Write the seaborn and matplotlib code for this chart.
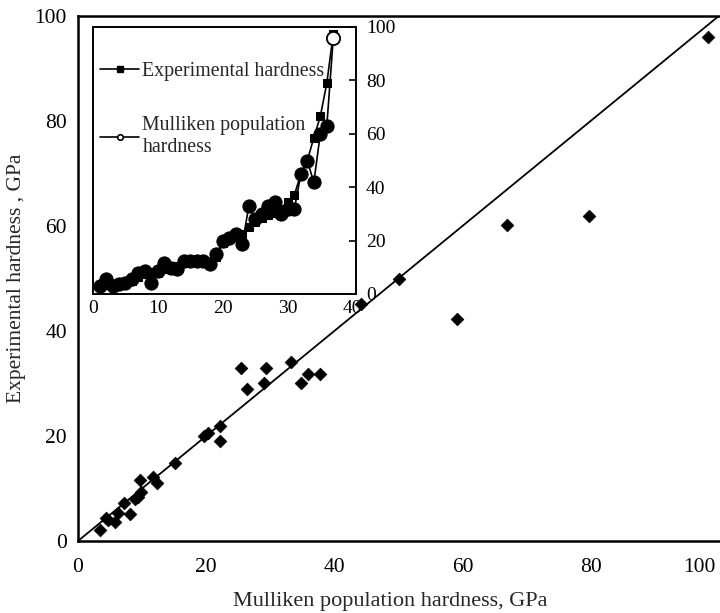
import matplotlib
matplotlib.use("Agg")
import matplotlib.pyplot as plt
import matplotlib.transforms as mtransforms
from matplotlib.lines import Line2D
import numpy as np
import pandas as pd
import seaborn as sns

# ---- main scatter: Mulliken population hardness vs experimental hardness (GPa)
mulliken_gpa = [3.4, 4.4, 4.7, 5.8, 6.3, 7.2, 8.1, 8.9, 9.4, 9.7, 9.9, 11.7, 12.3,
                15.2, 19.7, 20.3, 22.1, 22.1, 25.4, 26.3, 29.1, 29.3, 33.2, 34.8,
                35.9, 37.8, 44.1, 50.1, 59.1, 66.9, 79.7, 98.3]
experimental_gpa = [2.1, 4.4, 4.0, 3.6, 5.3, 7.2, 5.1, 8.0, 8.4, 11.6, 9.4, 12.2, 11.0,
                    14.9, 20.0, 20.6, 21.9, 19.0, 32.9, 28.9, 30.0, 32.9, 34.1, 30.0,
                    31.9, 31.8, 45.2, 49.9, 42.3, 60.2, 61.9, 96.0]
main_ticks = [0, 20, 40, 60, 80, 100]

# ---- inset: hardness per compound, ordered by experimental hardness
compound_no = list(range(1, 38))
inset_experimental = [2.5, 3.5, 3.8, 4.0, 4.2, 5.0, 6.5, 7.5, 7.0, 8.0, 9.5, 10.0,
                      10.5, 11.5, 11.8, 12.0, 12.0, 12.0, 14.0, 19.0, 20.5, 22.0,
                      22.5, 25.0, 27.0, 28.5, 29.5, 30.5, 32.0, 34.5, 37.0, 45.0,
                      50.0, 58.5, 66.5, 79.0, 97.5]
inset_mulliken = [3.0, 5.5, 3.0, 3.6, 4.2, 5.5, 8.0, 8.6, 4.2, 8.5, 11.7, 9.9,
                  9.2, 12.4, 12.4, 12.4, 12.2, 11.1, 14.9, 19.9, 21.0, 22.5,
                  18.9, 33.0, 28.0, 30.0, 33.0, 34.3, 29.9, 31.8, 31.8, 44.9,
                  49.9, 41.8, 60.0, 63.0, 96.0]
inset_xticks = [0, 10, 20, 30, 40]
inset_yticks = [0, 20, 40, 60, 80, 100]

sns.set_theme(style="white")
plt.rcParams["font.family"] = ["Liberation Serif", "DejaVu Serif"]

fig = plt.figure(figsize=(7.2, 6.13), dpi=100)
ax = fig.add_axes([0.1083, 0.1175, 0.890, 0.8564])

main_df = pd.DataFrame({"mulliken": mulliken_gpa, "experimental": experimental_gpa})
sns.scatterplot(data=main_df, x="mulliken", y="experimental", marker="D",
                s=42, color="black", edgecolor="black", linewidth=0.5, ax=ax, zorder=3)
ax.axline((0, 0), slope=1, color="black", lw=1.3, zorder=2)

ax.set_xlim(0, 100)
ax.set_ylim(0, 100)
ax.set_xticks(main_ticks)
ax.set_yticks(main_ticks)
ax.tick_params(axis="both", direction="in", length=8, width=1.3, labelsize=15.5,
               colors="black", pad=8)
ax.tick_params(axis="x", pad=12)
for side in ["left", "bottom", "top"]:
    ax.spines[side].set_linewidth(1.8)
    ax.spines[side].set_color("black")
ax.spines["right"].set_visible(False)
ax.set_xlabel("Mulliken population hardness, GPa", fontsize=16, labelpad=11)
ax.set_ylabel("Experimental hardness , GPa", fontsize=15.5, labelpad=6)
ax.xaxis.label.set_x(0.487)

# keep the last x tick label inside the figure edge
fig.canvas.draw()
last_label = ax.get_xticklabels()[-1]
last_label.set_transform(last_label.get_transform() +
                         mtransforms.ScaledTranslation(-0.19, 0, fig.dpi_scale_trans))

# ---- inset
ax_in = fig.add_axes([0.1292, 0.5204, 0.3653, 0.4356])
ax_in.set_facecolor("white")
inset_df = pd.DataFrame({"no": compound_no, "exp": inset_experimental,
                         "mull": inset_mulliken})
sns.lineplot(data=inset_df, x="no", y="mull", marker="o", markersize=9.5,
             color="black", markeredgecolor="black", lw=1.2, sort=False, ax=ax_in,
             zorder=3)
sns.lineplot(data=inset_df, x="no", y="exp", marker="s", markersize=5.5,
             color="black", markeredgecolor="black", lw=1.2, sort=False, ax=ax_in,
             zorder=4)
last = inset_df.tail(1)
ax_in.plot(last["no"], last["mull"], "o", ms=9.5, mfc="white", mec="black",
           mew=1.3, zorder=5)

ax_in.set_xlim(0, 40.5)
ax_in.set_ylim(0, 100)
ax_in.set_xticks(inset_xticks)
ax_in.set_yticks(inset_yticks)
ax_in.yaxis.tick_right()
ax_in.yaxis.set_label_position("right")
ax_in.tick_params(axis="both", direction="in", length=5, width=1.2, labelsize=14,
                  colors="black", pad=4)
ax_in.tick_params(axis="y", pad=7)
ax_in.set_xlabel("")
ax_in.set_ylabel("")
for side in ax_in.spines.values():
    side.set_linewidth(1.4)
    side.set_color("black")

handles = [
    Line2D([], [], color="black", lw=1.2, marker="s", ms=5, mfc="black"),
    Line2D([], [], color="black", lw=1.2, marker="o", ms=4, mfc="white", mew=1.2),
]
ax_in.legend(handles, ["Experimental hardness", "Mulliken population\nhardness"],
             loc="upper left", frameon=False, fontsize=14.3, handlelength=2.0,
             handletextpad=0.15, labelspacing=1.8, borderaxespad=0.2,
             bbox_to_anchor=(-0.02, 0.915))

fig.savefig("out.png", dpi=100)
